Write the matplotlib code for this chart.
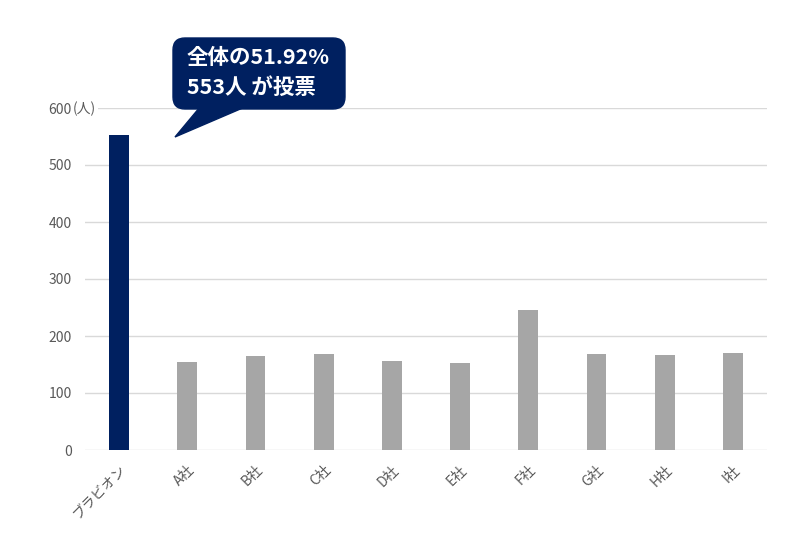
import matplotlib
matplotlib.use("Agg")
import matplotlib.pyplot as plt
from matplotlib.patches import FancyBboxPatch, Polygon

plt.rcParams['font.family'] = ['Noto Sans CJK JP', 'DejaVu Sans']

categories = ["ブラビオン", "A社", "B社", "C社", "D社", "E社", "F社", "G社", "H社", "I社"]
values = [553, 154, 165, 168, 156, 153, 245, 168, 166, 170]
highlight_color = "#002060"
other_color = "#a6a6a6"
yticks = [0, 100, 200, 300, 400, 500, 600]
callout_lines = ["全体の51.92%", "553人 が投票"]

W, H = 800, 533
fig = plt.figure(figsize=(8, 5.33), dpi=100)
ax = fig.add_axes([85 / W, 1 - 450 / H, (767 - 85) / W, (450 - 108) / H])

colors = [highlight_color] + [other_color] * (len(values) - 1)
x = list(range(len(categories)))
ax.bar(x, values, width=0.29, color=colors, zorder=3)

ax.set_xlim(-0.5, len(categories) - 0.5)
ax.set_ylim(0, 600)
ax.set_yticks(yticks)
ax.set_yticklabels([str(t) for t in yticks], fontsize=10, color="#595959")
ax.set_xticks(x)
ax.set_xticklabels(categories, rotation=45, ha="right", rotation_mode="anchor",
                   fontsize=10, color="#595959")
ax.tick_params(axis="both", length=0)
ax.tick_params(axis="y", pad=9.5)
ax.tick_params(axis="x", pad=9)
for s in ax.spines.values():
    s.set_visible(False)
ax.yaxis.grid(True, color="#d9d9d9", linewidth=1.0, zorder=0)
ax.set_axisbelow(True)

# unit label next to 600
fig.text(73 / W, 1 - 109 / H, "(人)", fontsize=10, color="#595959",
         ha="left", va="center",
         bbox=dict(boxstyle="square,pad=0.15", fc="white", ec="none"))

# callout
def fx(px):
    return px / W

def fy(py):
    return 1 - py / H

box = FancyBboxPatch((fx(173), fy(109)), fx(345) - fx(173), fy(38) - fy(109),
                     boxstyle="round,pad=0,rounding_size=0.015",
                     transform=fig.transFigure, fc=highlight_color, ec=highlight_color,
                     mutation_aspect=W / H, zorder=5)
fig.add_artist(box)
tail = Polygon([(fx(200), fy(107)), (fx(245), fy(107)), (fx(175), fy(137))],
               closed=True, transform=fig.transFigure, fc=highlight_color,
               ec=highlight_color, zorder=5)
fig.add_artist(tail)
fig.text(fx(187), fy(57), callout_lines[0], fontsize=15.5, fontweight="bold",
         color="white", ha="left", va="center", zorder=6)
fig.text(fx(187), fy(87), callout_lines[1], fontsize=15.5, fontweight="bold",
         color="white", ha="left", va="center", zorder=6)

fig.savefig("out.png", dpi=100, facecolor="white")
